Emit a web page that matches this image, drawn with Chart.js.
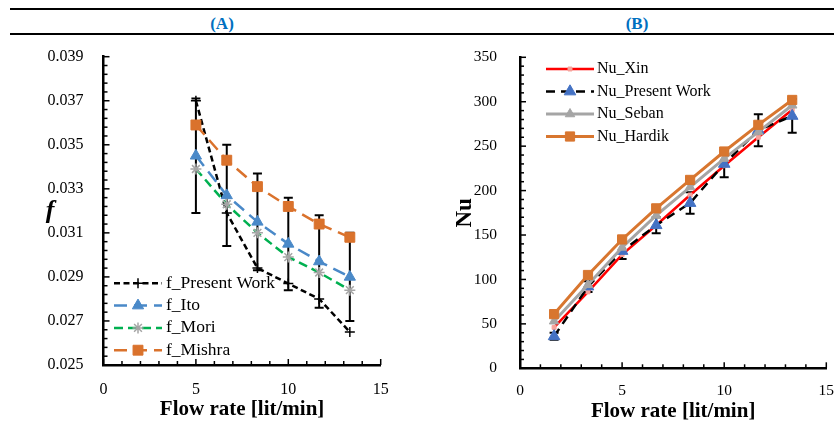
<!DOCTYPE html>
<html><head><meta charset="utf-8">
<script src="https://cdn.jsdelivr.net/npm/chart.js@4.4.0/dist/chart.umd.min.js"></script>
<style>
html,body{margin:0;padding:0;background:#fff;}
body{width:834px;height:436px;position:relative;overflow:hidden;font-family:"Liberation Serif","Times New Roman",serif;}
.rule{position:absolute;left:10px;right:0;height:0;border-top:2.5px solid #000;}
.ptitle{position:absolute;top:14px;font:bold 17px "Liberation Serif","Times New Roman",serif;color:#0070C0;transform:translateX(-50%);line-height:20px;}
#wa{position:absolute;left:0;top:36px;width:420px;height:400px;}
#wb{position:absolute;left:420px;top:36px;width:414px;height:400px;}
</style></head>
<body>
<div class="rule" style="top:8px"></div>
<div class="rule" style="top:33px"></div>
<div class="ptitle" style="left:222px">(A)</div>
<div class="ptitle" style="left:637px">(B)</div>
<div id="wa"><canvas id="ca"></canvas></div>
<div id="wb"><canvas id="cb"></canvas></div>
<script>
// ---------- DATA ----------
const flowA = [5, 6.67, 8.33, 10, 11.67, 13.33];
const fPresent = [0.0370, 0.0319, 0.0294, 0.0287, 0.0280, 0.0265];
const fIto     = [0.0345, 0.0327, 0.0315, 0.0305, 0.0297, 0.0290];
const fMori    = [0.0339, 0.0323, 0.0310, 0.0299, 0.0292, 0.0284];
const fMishra  = [0.0359, 0.0343, 0.0331, 0.0322, 0.0314, 0.0308];
const fErr     = [0.0026, 0.0023, 0.0022, 0.0021, 0.0021, 0.0020];
const yTicksA  = [0.025, 0.027, 0.029, 0.031, 0.033, 0.035, 0.037, 0.039];
const xTicks   = [0, 5, 10, 15];

const flowB = [1.67, 3.33, 5, 6.67, 8.33, 10, 11.67, 13.33];
const nuXin     = [46, 86, 128, 161, 195, 228, 260, 291];
const nuPresent = [36, 92, 132, 161, 186, 230, 268, 284];
const nuSeban   = [53, 94, 136, 172, 204, 236, 266, 296];
const nuHardik  = [61, 105, 145, 180, 212, 244, 274, 302];
const nuErr     = [4, 6, 9, 9, 12, 15, 18, 19];
const yTicksB   = [0, 50, 100, 150, 200, 250, 300, 350];

// ---------- SETUP ----------
const H = Chart.helpers;
const SERIF = '"Liberation Serif","Times New Roman",serif';
Chart.defaults.font.family = SERIF;
Chart.defaults.color = '#000';
function pts(xs, ys) { return xs.map((x, i) => ({x: x, y: ys[i]})); }

const decor = {
  id: 'decor',
  beforeDatasetsDraw(chart, args, o) {
    if (!o.err) return;
    const ctx = chart.ctx, xs = chart.scales.x, ys = chart.scales.y;
    const data = chart.data.datasets[o.err.dataset].data;
    ctx.save();
    ctx.strokeStyle = '#000'; ctx.lineWidth = o.err.width; ctx.setLineDash([]);
    data.forEach((p, i) => {
      const e = o.err.values[i], c = o.err.cap;
      const px = xs.getPixelForValue(p.x), t = ys.getPixelForValue(p.y + e), b = ys.getPixelForValue(p.y - e);
      ctx.beginPath();
      ctx.moveTo(px, t); ctx.lineTo(px, b);
      ctx.moveTo(px - c, t); ctx.lineTo(px + c, t);
      ctx.moveTo(px - c, b); ctx.lineTo(px + c, b);
      ctx.stroke();
    });
    ctx.restore();
  },
  afterDraw(chart, args, o) {
    const ctx = chart.ctx, ca = chart.chartArea, xs = chart.scales.x, ys = chart.scales.y;
    ctx.save();
    ctx.strokeStyle = '#000'; ctx.lineWidth = 1.5; ctx.setLineDash([]);
    const ny = Math.round((ys.max - ys.min) / o.yMinor);
    for (let k = 0; k <= ny; k++) {
      const v = ys.min + k * o.yMinor;
      const r = (v - ys.min) / o.yMajor;
      const major = Math.abs(r - Math.round(r)) < 1e-6;
      const py = ys.getPixelForValue(v);
      ctx.beginPath(); ctx.moveTo(ca.left, py); ctx.lineTo(ca.left + (major ? o.majorLen : o.minorLen), py); ctx.stroke();
    }
    const nx = Math.round((xs.max - xs.min) / o.xMinor);
    for (let k = 0; k <= nx; k++) {
      const v = xs.min + k * o.xMinor;
      const r = (v - xs.min) / o.xMajor;
      const major = Math.abs(r - Math.round(r)) < 1e-6;
      const px = xs.getPixelForValue(v);
      ctx.beginPath(); ctx.moveTo(px, ca.bottom); ctx.lineTo(px, ca.bottom - (major ? o.majorLen : o.minorLen)); ctx.stroke();
    }
    ctx.restore();
    // legend
    const lg = o.legend;
    lg.items.forEach((di, i) => {
      const ds = chart.data.datasets[di];
      const cy = lg.y + i * lg.gap;
      ctx.save();
      ctx.strokeStyle = ds.borderColor; ctx.lineWidth = ds.borderWidth; ctx.setLineDash(ds.borderDash || []);
      ctx.beginPath(); ctx.moveTo(lg.x0, cy); ctx.lineTo(lg.x1, cy); ctx.stroke();
      ctx.setLineDash([]);
      ctx.fillStyle = ds.pointBackgroundColor; ctx.strokeStyle = ds.pointBorderColor; ctx.lineWidth = ds.pointBorderWidth;
      H.drawPoint(ctx, {pointStyle: ds.pointStyle, radius: ds.pointRadius, rotation: 0, borderWidth: ds.pointBorderWidth}, (lg.x0 + lg.x1) / 2, cy);
      ctx.fillStyle = '#000'; ctx.font = lg.font; ctx.textBaseline = 'middle'; ctx.textAlign = 'left';
      ctx.fillText(ds.label, lg.tx, cy);
      ctx.restore();
    });
    if (o.yTitle) {
      ctx.save();
      ctx.fillStyle = '#000'; ctx.font = o.yTitle.font; ctx.textAlign = 'center'; ctx.textBaseline = 'middle';
      ctx.fillText(o.yTitle.text, o.yTitle.x, (ca.top + ca.bottom) / 2);
      ctx.restore();
    }
  }
};

function axisBase(ticksArr, fmt, pad, size) {
  return {
    type: 'linear',
    min: ticksArr[0], max: ticksArr[ticksArr.length - 1],
    afterBuildTicks: s => { s.ticks = ticksArr.map(v => ({value: v})); },
    grid: {display: false},
    border: {display: true, color: '#000', width: 2.5},
    ticks: {font: {size: size}, padding: pad, autoSkip: false, maxRotation: 0, callback: fmt}
  };
}

// ---------- CHART A ----------
new Chart(document.getElementById('ca'), {
  type: 'line',
  data: {datasets: [
    {label: 'f_Present Work', data: pts(flowA, fPresent), borderColor: '#000', borderWidth: 2.5, borderDash: [6, 3.5],
     pointStyle: 'cross', pointRadius: 5, pointBorderColor: '#000', pointBackgroundColor: '#000', pointBorderWidth: 1.5, order: 4},
    {label: 'f_Ito', data: pts(flowA, fIto), borderColor: '#4A89C8', borderWidth: 2.5, borderDash: [13, 7],
     pointStyle: 'triangle', pointRadius: 6.5, pointBorderColor: '#4A89C8', pointBackgroundColor: '#4A89C8', pointBorderWidth: 1, order: 3},
    {label: 'f_Mori', data: pts(flowA, fMori), borderColor: '#00B050', borderWidth: 2.5, borderDash: [9, 5],
     pointStyle: 'star', pointRadius: 5.5, pointBorderColor: '#A5A5A5', pointBackgroundColor: '#A5A5A5', pointBorderWidth: 1.5, order: 2},
    {label: 'f_Mishra', data: pts(flowA, fMishra), borderColor: '#DA722C', borderWidth: 2.5, borderDash: [13, 7],
     pointStyle: 'rect', pointRadius: 7, pointBorderColor: '#DA722C', pointBackgroundColor: '#DA722C', pointBorderWidth: 1, order: 1}
  ]},
  options: {
    responsive: true, maintainAspectRatio: false, animation: false, events: [],
    layout: {padding: {left: 0, top: 20.7, right: 39.3, bottom: 0}},
    elements: {line: {tension: 0, fill: false}},
    plugins: {
      legend: {display: false}, tooltip: {enabled: false},
      decor: {
        err: {dataset: 1, values: fErr, width: 2, cap: 4.5},
        yMinor: 0.0004, yMajor: 0.002, xMinor: 1, xMajor: 5, majorLen: 6, minorLen: 4,
        legend: {items: [0, 1, 2, 3], x0: 114, x1: 162, tx: 166, y: 247.3, gap: 22.3, font: '17.5px ' + SERIF},
        yTitle: {text: 'f', x: 50, font: 'italic bold 26px ' + SERIF}
      }
    },
    scales: {
      x: Object.assign(axisBase(xTicks, v => String(v), 7, 16), {
        title: {display: true, text: 'Flow rate [lit/min]', font: {size: 21, weight: 'bold'}, padding: {top: 0, bottom: 13.4}},
        afterFit: s => { s.height = 71; s.paddingLeft = 0; s.paddingRight = 0; }
      }),
      y: Object.assign(axisBase(yTicksA, v => Number(v).toFixed(3), 12, 16), {
        afterFit: s => { s.width = 103.5; s.paddingTop = 0; s.paddingBottom = 0; }
      })
    }
  },
  plugins: [decor]
});

// ---------- CHART B ----------
new Chart(document.getElementById('cb'), {
  type: 'line',
  data: {datasets: [
    {label: 'Nu_Xin', data: pts(flowB, nuXin), borderColor: '#FF0000', borderWidth: 2.5,
     pointStyle: 'rect', pointRadius: 2.8, pointBorderColor: '#F7A39B', pointBackgroundColor: '#F7A39B', pointBorderWidth: 1, order: 4},
    {label: 'Nu_Present Work', data: pts(flowB, nuPresent), borderColor: '#000', borderWidth: 2.5, borderDash: [9, 6],
     pointStyle: 'triangle', pointRadius: 6.7, pointBorderColor: '#4472C4', pointBackgroundColor: '#4472C4', pointBorderWidth: 1, order: 3},
    {label: 'Nu_Seban', data: pts(flowB, nuSeban), borderColor: '#A5A5A5', borderWidth: 3,
     pointStyle: 'triangle', pointRadius: 5.5, pointBorderColor: '#A5A5A5', pointBackgroundColor: '#A5A5A5', pointBorderWidth: 1, order: 2},
    {label: 'Nu_Hardik', data: pts(flowB, nuHardik), borderColor: '#D8762F', borderWidth: 3,
     pointStyle: 'rect', pointRadius: 6.5, pointBorderColor: '#D8762F', pointBackgroundColor: '#D8762F', pointBorderWidth: 1, order: 1}
  ]},
  options: {
    responsive: true, maintainAspectRatio: false, animation: false, events: [],
    layout: {padding: {left: 0, top: 21.3, right: 7.3, bottom: 0}},
    elements: {line: {tension: 0, fill: false}},
    plugins: {
      legend: {display: false}, tooltip: {enabled: false},
      decor: {
        err: {dataset: 1, values: nuErr, width: 2, cap: 4.5},
        yMinor: 10, yMajor: 50, xMinor: 1, xMajor: 5, majorLen: 6, minorLen: 4,
        legend: {items: [0, 1, 2, 3], x0: 126, x1: 174, tx: 177, y: 33, gap: 22.5, font: '16px ' + SERIF}
      }
    },
    scales: {
      x: Object.assign(axisBase(xTicks, v => String(v), 5, 15.5), {
        title: {display: true, text: 'Flow rate [lit/min]', font: {size: 21, weight: 'bold'}, padding: {top: 0, bottom: 11.7}},
        afterFit: s => { s.height = 67.7; s.paddingLeft = 0; s.paddingRight = 0; }
      }),
      y: Object.assign(axisBase(yTicksB, v => String(v), 15, 15.5), {
        title: {display: true, text: 'Nu', font: {size: 23, weight: 'bold'}, padding: {top: 31.2, bottom: 0}},
        afterFit: s => { s.width = 100; s.paddingTop = 0; s.paddingBottom = 0; }
      })
    }
  },
  plugins: [decor]
});
</script>
</body></html>
